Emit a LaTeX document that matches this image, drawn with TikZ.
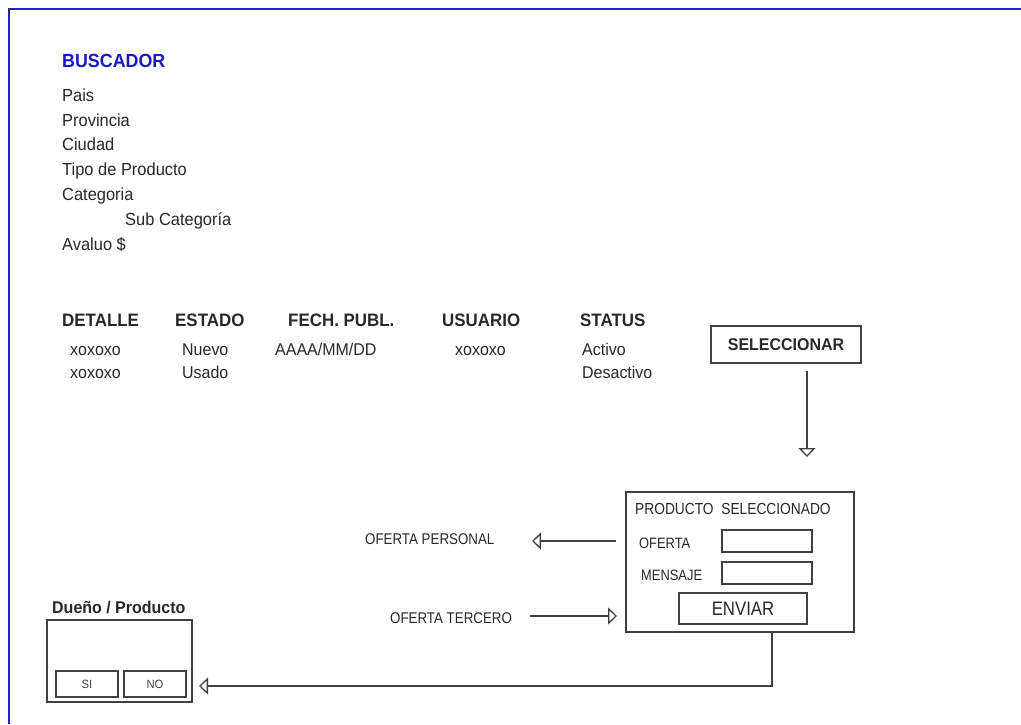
\documentclass[tikz,border=0pt]{standalone}
\usepackage{fontspec}
\setmainfont[FakeStretch=0.94]{Liberation Sans}
\newfontfamily\narrowfont[FakeStretch=0.86]{Liberation Sans}
\usetikzlibrary{arrows.meta}
\definecolor{frameblue}{RGB}{30,30,235}
\definecolor{titleblue}{RGB}{25,25,200}
\definecolor{ink}{RGB}{40,40,40}
\definecolor{linegray}{RGB}{65,65,65}
\tikzset{
  txt/.style={anchor=base west, inner sep=0pt, text=ink},
  fs/.style={font=\fontsize{#1}{#1}\selectfont},
  bfs/.style={font=\fontsize{#1}{#1}\selectfont\bfseries},
  nfs/.style={font=\fontsize{#1}{#1}\selectfont\narrowfont},
  box/.style={draw=linegray, line width=1.4pt, inner sep=0pt, text=ink},
  conn/.style={draw=linegray, line width=1.3pt, -{Triangle[open, length=9pt, width=17pt]}},
  plain/.style={draw=linegray, line width=1.3pt},
}
\begin{document}
\begin{tikzpicture}[x=1pt, y=-1pt]
\useasboundingbox (0,0) rectangle (1021,724);
\fill[white] (0,0) rectangle (1021,724);
\draw[frameblue, line width=2pt] (9,724) -- (9,9) -- (1021,9);

% Buscador
\node[txt, bfs=19, text=titleblue] (busc) at (62,67) {BUSCADOR};
\node[txt, fs=17.5] (pais) at (62,101) {Pais};
\node[txt, fs=17.5] (prov) at (62,126) {Provincia};
\node[txt, fs=17.5] (ciud) at (62,150.5) {Ciudad};
\node[txt, fs=17.5] (tipo) at (62,175.5) {Tipo de Producto};
\node[txt, fs=17.5] (cate) at (62,200) {Categoria};
\node[txt, fs=17.5] (subc) at (125,225) {Sub Categoría};
\node[txt, fs=17.5] (aval) at (62,250) {Avaluo \$};

% Table
\node[txt, bfs=18] (hdet) at (62,326) {DETALLE};
\node[txt, bfs=18] (hest) at (175,326) {ESTADO};
\node[txt, bfs=18] (hfec) at (288,326) {FECH. PUBL.};
\node[txt, bfs=18] (husu) at (442,326) {USUARIO};
\node[txt, bfs=18] (hsta) at (580,326) {STATUS};
\node[txt, fs=17] (d1) at (70,355) {xoxoxo};
\node[txt, fs=17] (d2) at (70,378) {xoxoxo};
\node[txt, fs=17] (e1) at (182,355) {Nuevo};
\node[txt, fs=17] (e2) at (182,378) {Usado};
\node[txt, fs=17] (f1) at (275,355) {AAAA/MM/DD};
\node[txt, fs=17] (u1) at (455,355) {xoxoxo};
\node[txt, fs=17] (s1) at (582,355) {Activo};
\node[txt, fs=17] (s2) at (582,378) {Desactivo};

% Seleccionar
\node[box, bfs=17, minimum width=150pt, minimum height=37pt] (sel) at (786,344.5) {SELECCIONAR};
\coordinate (selstart) at (807,371);
\coordinate (seltip) at (807,457);
\draw[conn] (selstart) -- (seltip);

% Producto seleccionado
\node[box, minimum width=228pt, minimum height=140pt] (prod) at (740,562) {};
\node[txt, nfs=16] (ptitle) at (635,514) {PRODUCTO\ \ SELECCIONADO};
\node[txt, nfs=15] (lofer) at (639,548) {OFERTA};
\node[txt, nfs=15] (lmens) at (641,580) {MENSAJE};
\node[box, minimum width=90pt, minimum height=22pt] (iofer) at (767,541) {};
\node[box, minimum width=90pt, minimum height=22pt] (imens) at (767,573) {};
\node[box, nfs=19.5, minimum width=128pt, minimum height=31pt] (env) at (743,608.5) {ENVIAR};

% Ofertas
\node[txt, nfs=15.5] (opers) at (365,544) {OFERTA PERSONAL};
\node[txt, nfs=15.5] (oterc) at (390,623) {OFERTA TERCERO};
\coordinate (opstart) at (616,541);
\coordinate (optip) at (532,541);
\draw[conn] (opstart) -- (optip);
\coordinate (otstart) at (530,616);
\coordinate (ottip) at (617,616);
\draw[conn] (otstart) -- (ottip);

% Dueno / Producto
\node[txt, bfs=17] (dtitle) at (52,613) {Dueño / Producto};
\node[box, minimum width=145pt, minimum height=82pt] (dueno) at (119.5,661) {};
\node[box, fs=12, text=linegray, minimum width=62pt, minimum height=26pt] (si) at (87,684) {SI};
\node[box, fs=12, text=linegray, minimum width=62pt, minimum height=26pt] (no) at (155,684) {NO};
\coordinate (bend) at (772,686);
\coordinate (dtip) at (199,686);
\draw[conn] (prod.south -| bend) -- (bend) -- (dtip);
\end{tikzpicture}
\end{document}
